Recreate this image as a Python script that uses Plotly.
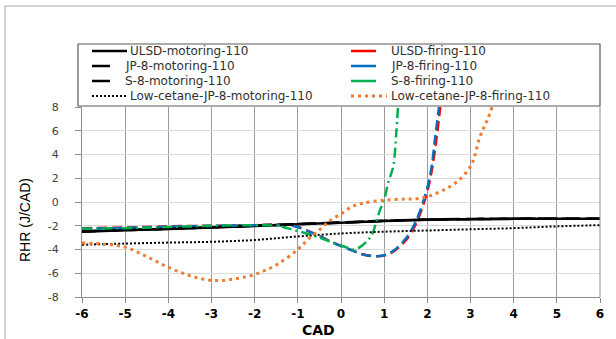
import plotly.graph_objects as go

# ---------------- data ----------------
mot_x = [-6, -5, -4, -3, -2, -1, 0, 1, 2, 3, 4, 5, 6]
ulsd_mot = [-2.5, -2.38, -2.27, -2.15, -2.02, -1.88, -1.75, -1.6, -1.5, -1.45, -1.42, -1.42, -1.42]
jp8_mot = [-2.47, -2.36, -2.25, -2.13, -2.0, -1.86, -1.73, -1.58, -1.48, -1.43, -1.4, -1.4, -1.4]
s8_mot = [-2.48, -2.37, -2.26, -2.14, -2.01, -1.87, -1.74, -1.59, -1.49, -1.44, -1.41, -1.41, -1.41]
lc_mot = [-3.6, -3.5, -3.42, -3.35, -3.2, -2.9, -2.65, -2.5, -2.4, -2.3, -2.2, -2.05, -1.95]

ulsd_fire_x = [-6, -5, -4, -3, -2, -1.5, -1.2, -1, -0.75, -0.5, -0.25, 0, 0.25, 0.5, 0.75, 1.0,
               1.2, 1.4, 1.55, 1.7, 1.8, 1.9, 2.0, 2.1, 2.2, 2.3]
ulsd_fire = [-2.2, -2.15, -2.05, -2.0, -1.95, -1.9, -1.95, -2.1, -2.45, -2.85, -3.3, -3.7, -4.05, -4.4,
             -4.55, -4.5, -4.2, -3.6, -3.0, -2.1, -1.3, -0.3, 0.9, 2.6, 5.0, 8.0]
jp8_fire_x = [-6, -5, -4, -3, -2, -1.5, -1.2, -1, -0.75, -0.5, -0.25, 0, 0.25, 0.5, 0.75, 1.0,
              1.2, 1.4, 1.55, 1.7, 1.8, 1.9, 2.0, 2.1, 2.18, 2.27]
jp8_fire = [-2.25, -2.18, -2.08, -2.02, -1.96, -1.92, -1.97, -2.12, -2.47, -2.87, -3.32, -3.72, -4.07,
            -4.42, -4.56, -4.48, -4.15, -3.5, -2.85, -1.9, -1.05, 0.0, 1.2, 3.0, 5.4, 8.0]
s8_fire_x = [-6, -5, -4, -3, -2, -1.5, -1.25, -1.0, -0.75, -0.5, -0.25, 0, 0.15, 0.3, 0.44, 0.6,
             0.71, 0.8, 0.9, 1.0, 1.09, 1.21, 1.28, 1.32]
s8_fire = [-2.25, -2.2, -2.1, -2.0, -1.95, -2.0, -2.2, -2.45, -2.7, -3.0, -3.35, -3.65, -3.85, -4.0,
           -3.8, -3.3, -2.8, -1.9, -0.7, 0.2, 1.6, 3.0, 5.8, 8.0]
lc_fire_x = [-6, -5.5, -5, -4.5, -4, -3.5, -3, -2.5, -2, -1.5, -1, -0.75, -0.5, -0.25, 0, 0.25, 0.5,
             1.0, 1.5, 1.75, 2.0, 2.25, 2.5, 2.75, 3.0, 3.1, 3.2, 3.3, 3.4, 3.5]
lc_fire = [-3.45, -3.55, -3.8, -4.6, -5.5, -6.2, -6.6, -6.5, -6.1, -5.3, -4.0, -3.1, -2.35, -1.55,
           -1.0, -0.4, -0.1, 0.15, 0.25, 0.28, 0.45, 0.8, 1.25, 1.9, 3.0, 3.9, 5.3, 6.2, 7.0, 8.0]

names = ["ULSD-motoring-110", "ULSD-firing-110", "JP-8-motoring-110", "JP-8-firing-110",
         "S-8-motoring-110", "S-8-firing-110", "Low-cetane-JP-8-motoring-110",
         "Low-cetane-JP-8-firing-110"]
x_ticks = [-6, -5, -4, -3, -2, -1, 0, 1, 2, 3, 4, 5, 6]
y_ticks = [-8, -6, -4, -2, 0, 2, 4, 6, 8]

# ---------------- styles ----------------
BLACK = "#000000"
RED = "#FF0000"
BLUE = "#0070C0"
GREEN = "#00B050"
ORANGE = "#ED7D31"

series = [
    (mot_x, ulsd_mot, names[0], BLACK, "solid", 2.5),
    (ulsd_fire_x, ulsd_fire, names[1], RED, "10px,5px", 2.5),
    (mot_x, jp8_mot, names[2], BLACK, "18px,6px", 2.5),
    (jp8_fire_x, jp8_fire, names[3], BLUE, "10px,5px", 2.5),
    (mot_x, s8_mot, names[4], BLACK, "14px,8px", 2.5),
    (s8_fire_x, s8_fire, names[5], GREEN, "10px,4px,2px,4px", 2.5),
    (mot_x, lc_mot, names[6], BLACK, "2px,2px", 2),
    (lc_fire_x, lc_fire, names[7], ORANGE, "3px,4px", 3),
]

fig = go.Figure()
for xs, ys, nm, col, dash, w in series:
    fig.add_trace(go.Scatter(x=xs, y=ys, name=nm, mode="lines", line_shape="spline",
                             line=dict(color=col, dash=dash, width=w), showlegend=False))

W, H = 616, 339
L, R, T, B = 82, 16, 107, 42
PW, PH = W - L - R, H - T - B


def px(xp):
    return (xp - L) / PW


def py(yp):
    return (H - B - yp) / PH


shapes = []
annotations = []

# outer chart frame (top + left visible)
shapes.append(dict(type="line", xref="paper", yref="paper", x0=px(5), x1=px(616), y0=py(6), y1=py(6),
                   line=dict(color="#a6a6a6", width=1)))
shapes.append(dict(type="line", xref="paper", yref="paper", x0=px(5), x1=px(5), y0=py(6), y1=py(339),
                   line=dict(color="#a6a6a6", width=1)))
# right border of plot
shapes.append(dict(type="line", xref="paper", yref="paper", x0=1, x1=1, y0=0, y1=1,
                   line=dict(color="#8c8c8c", width=1)))

# legend box
shapes.append(dict(type="rect", xref="paper", yref="paper", x0=px(78), x1=px(600), y0=py(106), y1=py(44),
                   line=dict(color="#595959", width=1.2), fillcolor="white", layer="above"))

rows = [51, 66, 81, 96]
leg_items = [
    # (series index, sample x0, sample x1, text x, row)
    (0, 92, 127, 130, 0), (2, 92, 110, 125, 1), (4, 92, 110, 125, 2), (6, 92, 127, 130, 3),
    (1, 351, 376, 391, 0), (3, 351, 376, 391, 1), (5, 351, 376, 391, 2), (7, 351, 387, 391, 3),
]
for idx, sx0, sx1, tx, r in leg_items:
    _, _, nm, col, dash, w = series[idx]
    d = dash if dash in ("2px,2px", "3px,4px") else "solid"
    shapes.append(dict(type="line", xref="paper", yref="paper", x0=px(sx0), x1=px(sx1),
                       y0=py(rows[r]), y1=py(rows[r]), layer="above",
                       line=dict(color=col, dash=d, width=w)))
    annotations.append(dict(xref="paper", yref="paper", x=px(tx - 2), y=py(rows[r]), text=nm,
                            showarrow=False, xanchor="left", yanchor="middle",
                            font=dict(family="DejaVu Sans", size=12, color="#303030")))

# axis titles
annotations.append(dict(xref="paper", yref="paper", x=px(25), y=py(220), text="RHR (J/CAD)",
                        textangle=-90, showarrow=False, xanchor="center", yanchor="middle",
                        font=dict(family="Liberation Sans Narrow, Liberation Sans", size=14,
                                  color="#000000")))
annotations.append(dict(xref="paper", yref="paper", x=px(318), y=py(330), text="<b>CAD</b>",
                        showarrow=False, xanchor="center", yanchor="middle", borderpad=0,
                        font=dict(family="DejaVu Sans", size=14, color="#000000")))

fig.update_layout(
    width=W, height=H,
    margin=dict(l=L, r=R, t=T, b=B),
    paper_bgcolor="white", plot_bgcolor="white",
    font=dict(family="DejaVu Sans"),
    showlegend=False,
    shapes=shapes,
    annotations=annotations,
    xaxis=dict(range=[-6, 6], tickvals=x_ticks, ticktext=[str(v) for v in x_ticks],
               showgrid=True, gridcolor="#9a9a9a", gridwidth=1,
               showline=True, linecolor="#8c8c8c", linewidth=1,
               ticks="outside", ticklen=5, tickcolor="#8c8c8c",
               tickfont=dict(family="DejaVu Sans", size=12, color="#000000", weight="bold"),
               ticklabelstandoff=1, zeroline=False),
    yaxis=dict(range=[-8, 8], tickvals=y_ticks, ticktext=[str(v) for v in y_ticks],
               showgrid=True, gridcolor="#d9d9d9", gridwidth=1,
               showline=True, linecolor="#8c8c8c", linewidth=1,
               ticks="outside", ticklen=6, tickcolor="#8c8c8c",
               tickfont=dict(family="DejaVu Sans", size=11, color="#404040"),
               ticklabelstandoff=14, zeroline=False),
)

fig.write_html("out.html")
